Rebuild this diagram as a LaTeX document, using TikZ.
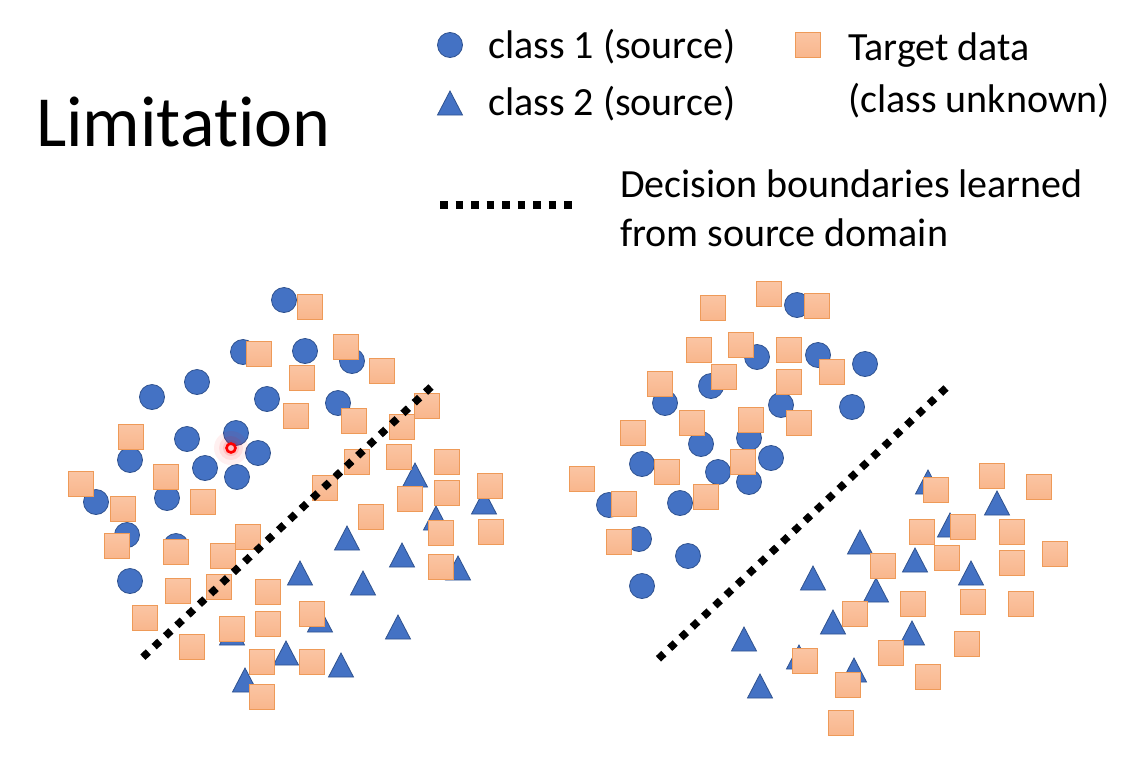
\documentclass[tikz,border=0pt]{standalone}
\usepackage{fontspec}
\setmainfont[Ligatures=NoCommon]{Carlito}
\definecolor{srcblue}{HTML}{4472C4}
\definecolor{srcedge}{HTML}{2F528F}
\definecolor{tgtfill}{HTML}{F9B68C}
\definecolor{tgtedge}{HTML}{EE9A58}
\begin{document}
\begin{tikzpicture}[x=1pt, y=-1pt,
    cls1/.style={circle, fill=srcblue, draw=srcedge, line width=0.8pt, minimum size=25pt, inner sep=0pt},
    tgt/.style={rectangle, top color=tgtfill!80!white, bottom color=tgtfill, draw=tgtedge, line width=1pt, minimum size=24.5pt, inner sep=0pt},
    tri/.pic={\draw[fill=srcblue, draw=srcedge, line width=0.8pt] (-12.5,12) -- (0,-12) -- (12.5,12) -- cycle;},
    boundary/.style={line width=7.5pt, dash pattern=on 7.5pt off 8pt},
    lbl/.style={anchor=base west, inner sep=0pt, font=\fontsize{40}{48}\selectfont}]

    % Canvas
    \fill[white] (0,0) rectangle (1129,766);
    \useasboundingbox (0,0) rectangle (1129,766);

    % Title
    \node[anchor=base west, inner sep=0pt, font=\fontsize{72}{80}\selectfont] (title) at (36,146) {Limitation};

    % Legend
    \node[cls1] (key1) at (450,45) {};
    \pic at (450,103) {tri};
    \node[tgt] (keyt) at (808,45) {};
    \coordinate (keyda) at (440,205);
    \coordinate (keydb) at (572,205);
    \draw[boundary, line width=8pt] (keyda) -- (keydb);

    \node[lbl] (lbl1) at (488,58) {class 1 (source)};
    \node[lbl] (lbl2) at (488,115) {class 2 (source)};
    \node[lbl] (lblt1) at (848,60) {Target data};
    \node[lbl] (lblt2) at (848,112) {(class unknown)};
    \node[lbl] (lbld1) at (620,197) {Decision boundaries learned};
    \node[lbl] (lbld2) at (620,246) {from source domain};

    % Left: class 1 (source)
    \node[cls1] at (284,300) {};
    \node[cls1] at (243,352) {};
    \node[cls1] at (305,351) {};
    \node[cls1] at (352,361) {};
    \node[cls1] at (197,382) {};
    \node[cls1] at (152,397) {};
    \node[cls1] at (267,399) {};
    \node[cls1] at (338,403) {};
    \node[cls1] at (187,439) {};
    \node[cls1] at (236,433) {};
    \node[cls1] at (130,460) {};
    \node[cls1] at (258,453) {};
    \node[cls1] at (205,468) {};
    \node[cls1] at (237,477) {};
    \node[cls1] at (96,502) {};
    \node[cls1] at (167,498) {};
    \node[cls1] at (127,535) {};
    \node[cls1] at (176,546) {};
    \node[cls1] at (130,581) {};

    % Left: class 2 (source)
    \pic at (415,475) {tri};
    \pic at (484,502) {tri};
    \pic at (436,518) {tri};
    \pic at (347,538) {tri};
    \pic at (402,555) {tri};
    \pic at (458,568) {tri};
    \pic at (300,573) {tri};
    \pic at (363,583) {tri};
    \pic at (320,620) {tri};
    \pic at (398,627) {tri};
    \pic at (232,633) {tri};
    \pic at (286,653) {tri};
    \pic at (341,665) {tri};
    \pic at (245,680) {tri};

    % Left: target data
    \node[tgt] at (310,307) {};
    \node[tgt] at (259,354) {};
    \node[tgt] at (346,347) {};
    \node[tgt] at (382,371) {};
    \node[tgt] at (302,378) {};
    \node[tgt] at (296,416) {};
    \node[tgt] at (354,421) {};
    \node[tgt] at (427,406) {};
    \node[tgt] at (402,427) {};
    \node[tgt] at (131,437) {};
    \node[tgt] at (357,462) {};
    \node[tgt] at (399,457) {};
    \node[tgt] at (447,462) {};
    \node[tgt] at (166,477) {};
    \node[tgt] at (81,484) {};
    \node[tgt] at (325,488) {};
    \node[tgt] at (123,509) {};
    \node[tgt] at (203,502) {};
    \node[tgt] at (410,499) {};
    \node[tgt] at (447,493) {};
    \node[tgt] at (490,486) {};
    \node[tgt] at (371,517) {};
    \node[tgt] at (441,533) {};
    \node[tgt] at (491,532) {};
    \node[tgt] at (248,537) {};
    \node[tgt] at (117,546) {};
    \node[tgt] at (176,552) {};
    \node[tgt] at (223,556) {};
    \node[tgt] at (441,567) {};
    \node[tgt] at (178,591) {};
    \node[tgt] at (219,587) {};
    \node[tgt] at (268,592) {};
    \node[tgt] at (312,614) {};
    \node[tgt] at (145,618) {};
    \node[tgt] at (268,624) {};
    \node[tgt] at (232,629) {};
    \node[tgt] at (192,647) {};
    \node[tgt] at (262,662) {};
    \node[tgt] at (312,662) {};
    \node[tgt] at (262,697) {};

    % Left: boundary
    \coordinate (lefta) at (431,387);
    \coordinate (leftb) at (142,658);
    \draw[boundary] (lefta) -- (leftb);

    % Highlighted point
    \fill[red, opacity=0.06] (231,448) circle[radius=17];
    \fill[red, opacity=0.08] (231,448) circle[radius=12];
    \fill[red, opacity=0.12] (231,448) circle[radius=8];
    \draw[red, line width=2.6pt] (231,448) circle[radius=4.5];

    % Right: class 1 (source)
    \node[cls1] at (797,305) {};
    \node[cls1] at (757,357) {};
    \node[cls1] at (818,355) {};
    \node[cls1] at (865,364) {};
    \node[cls1] at (711,386) {};
    \node[cls1] at (781,405) {};
    \node[cls1] at (665,403) {};
    \node[cls1] at (852,407) {};
    \node[cls1] at (749,438) {};
    \node[cls1] at (701,444) {};
    \node[cls1] at (642,464) {};
    \node[cls1] at (718,472) {};
    \node[cls1] at (771,458) {};
    \node[cls1] at (749,482) {};
    \node[cls1] at (609,505) {};
    \node[cls1] at (680,503) {};
    \node[cls1] at (639,539) {};
    \node[cls1] at (688,556) {};
    \node[cls1] at (642,586) {};

    % Right: class 2 (source)
    \pic at (928,482) {tri};
    \pic at (997,503) {tri};
    \pic at (950,525) {tri};
    \pic at (860,542) {tri};
    \pic at (915,560) {tri};
    \pic at (971,573) {tri};
    \pic at (813,578) {tri};
    \pic at (876,590) {tri};
    \pic at (833,622) {tri};
    \pic at (912,633) {tri};
    \pic at (744,639) {tri};
    \pic at (799,657) {tri};
    \pic at (854,670) {tri};
    \pic at (760,686) {tri};

    % Right: target data
    \node[tgt] at (713,308) {};
    \node[tgt] at (769,294) {};
    \node[tgt] at (817,306) {};
    \node[tgt] at (699,350) {};
    \node[tgt] at (741,345) {};
    \node[tgt] at (789,350) {};
    \node[tgt] at (832,372) {};
    \node[tgt] at (724,377) {};
    \node[tgt] at (789,382) {};
    \node[tgt] at (660,384) {};
    \node[tgt] at (692,423) {};
    \node[tgt] at (751,420) {};
    \node[tgt] at (799,423) {};
    \node[tgt] at (633,433) {};
    \node[tgt] at (667,472) {};
    \node[tgt] at (743,462) {};
    \node[tgt] at (582,479) {};
    \node[tgt] at (624,504) {};
    \node[tgt] at (706,497) {};
    \node[tgt] at (619,542) {};
    \node[tgt] at (936,490) {};
    \node[tgt] at (992,476) {};
    \node[tgt] at (1039,487) {};
    \node[tgt] at (922,532) {};
    \node[tgt] at (963,527) {};
    \node[tgt] at (1012,532) {};
    \node[tgt] at (883,566) {};
    \node[tgt] at (947,558) {};
    \node[tgt] at (1012,563) {};
    \node[tgt] at (1055,554) {};
    \node[tgt] at (913,604) {};
    \node[tgt] at (973,602) {};
    \node[tgt] at (1021,604) {};
    \node[tgt] at (855,614) {};
    \node[tgt] at (967,644) {};
    \node[tgt] at (891,653) {};
    \node[tgt] at (805,661) {};
    \node[tgt] at (848,685) {};
    \node[tgt] at (928,677) {};
    \node[tgt] at (841,723) {};

    % Right: boundary
    \coordinate (righta) at (946,388);
    \coordinate (rightb) at (655,662);
    \draw[boundary] (righta) -- (rightb);

\end{tikzpicture}
\end{document}
